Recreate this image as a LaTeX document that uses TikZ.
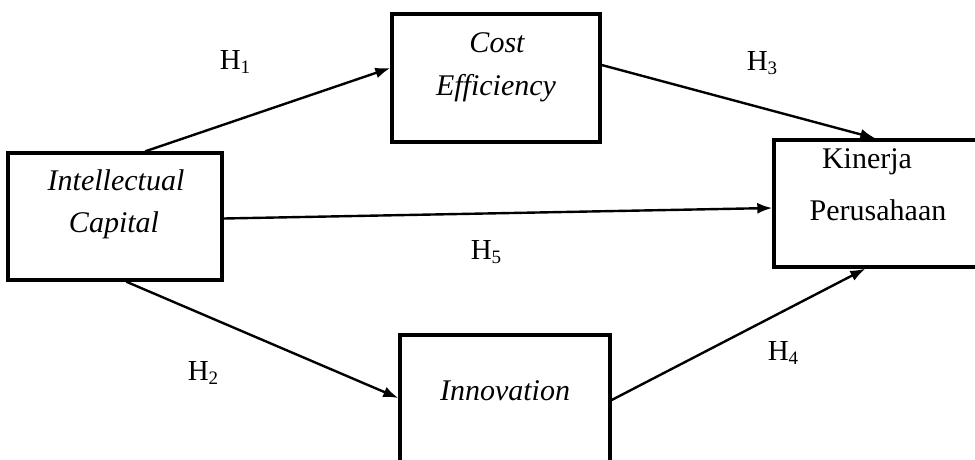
\documentclass[tikz,border=0pt]{standalone}
\usepackage{fontspec}
\setmainfont{Liberation Serif}
\usetikzlibrary{arrows.meta}
\newcommand{\hyp}[1]{H\raisebox{-4pt}{\fontsize{19}{19}\selectfont #1}}
\begin{document}
\begin{tikzpicture}[x=1pt,y=-1pt,
  box/.style={draw=black,line width=3.4pt,rectangle,inner sep=0pt},
  txt/.style={anchor=base,font=\fontsize{30}{34}\selectfont,inner sep=0pt},
  itxt/.style={txt,font=\fontsize{30}{34}\selectfont\itshape},
  hlab/.style={font=\fontsize{29}{32}\selectfont,inner sep=0pt},
  conn/.style={draw=black,line width=2.4pt,-{Latex[length=15pt,width=11pt]}}]
\useasboundingbox (0,0) rectangle (975,459);
\clip (0,0) rectangle (975,459);
\node[box,minimum width=214pt,minimum height=127pt] (ic) at (115,216.5) {};
\node[box,minimum width=208pt,minimum height=128pt] (ce) at (496,78) {};
\node[box,minimum width=221pt,minimum height=127pt] (kp) at (884.5,203.5) {};
\node[box,minimum width=210pt,minimum height=140pt] (inn) at (505,405) {};
\node[itxt] (ic1) at (116,190) {Intellectual};
\node[itxt] (ic2) at (114,232) {Capital};
\node[itxt] (ce1) at (497,52) {Cost};
\node[itxt] (ce2) at (496,95) {Efficiency};
\node[txt] (kp1) at (867,168) {Kinerja};
\node[txt] (kp2) at (878,220) {Perusahaan};
\node[itxt] (inn1) at (505,400) {Innovation};
\draw[conn] ([xshift=139pt]ic.north west) -- ([yshift=10pt]ce.west);
\draw[conn] ([yshift=13pt]ce.east) -- ([xshift=103pt]kp.north west);
\draw[conn] ([yshift=-2pt]ic.east) -- ([yshift=-4.5pt]kp.west);
\draw[conn] ([xshift=120pt]ic.south west) -- ([yshift=7pt]inn.west);
\draw[conn] ([yshift=5pt]inn.east) -- ([xshift=93pt]kp.south west);
\node[hlab] (l1) at (235,62) {\hyp{1}};
\node[hlab] (l3) at (762,63) {\hyp{3}};
\node[hlab] (l5) at (486,252) {\hyp{5}};
\node[hlab] (l2) at (203,373) {\hyp{2}};
\node[hlab] (l4) at (783,353) {\hyp{4}};
\end{tikzpicture}
\end{document}
